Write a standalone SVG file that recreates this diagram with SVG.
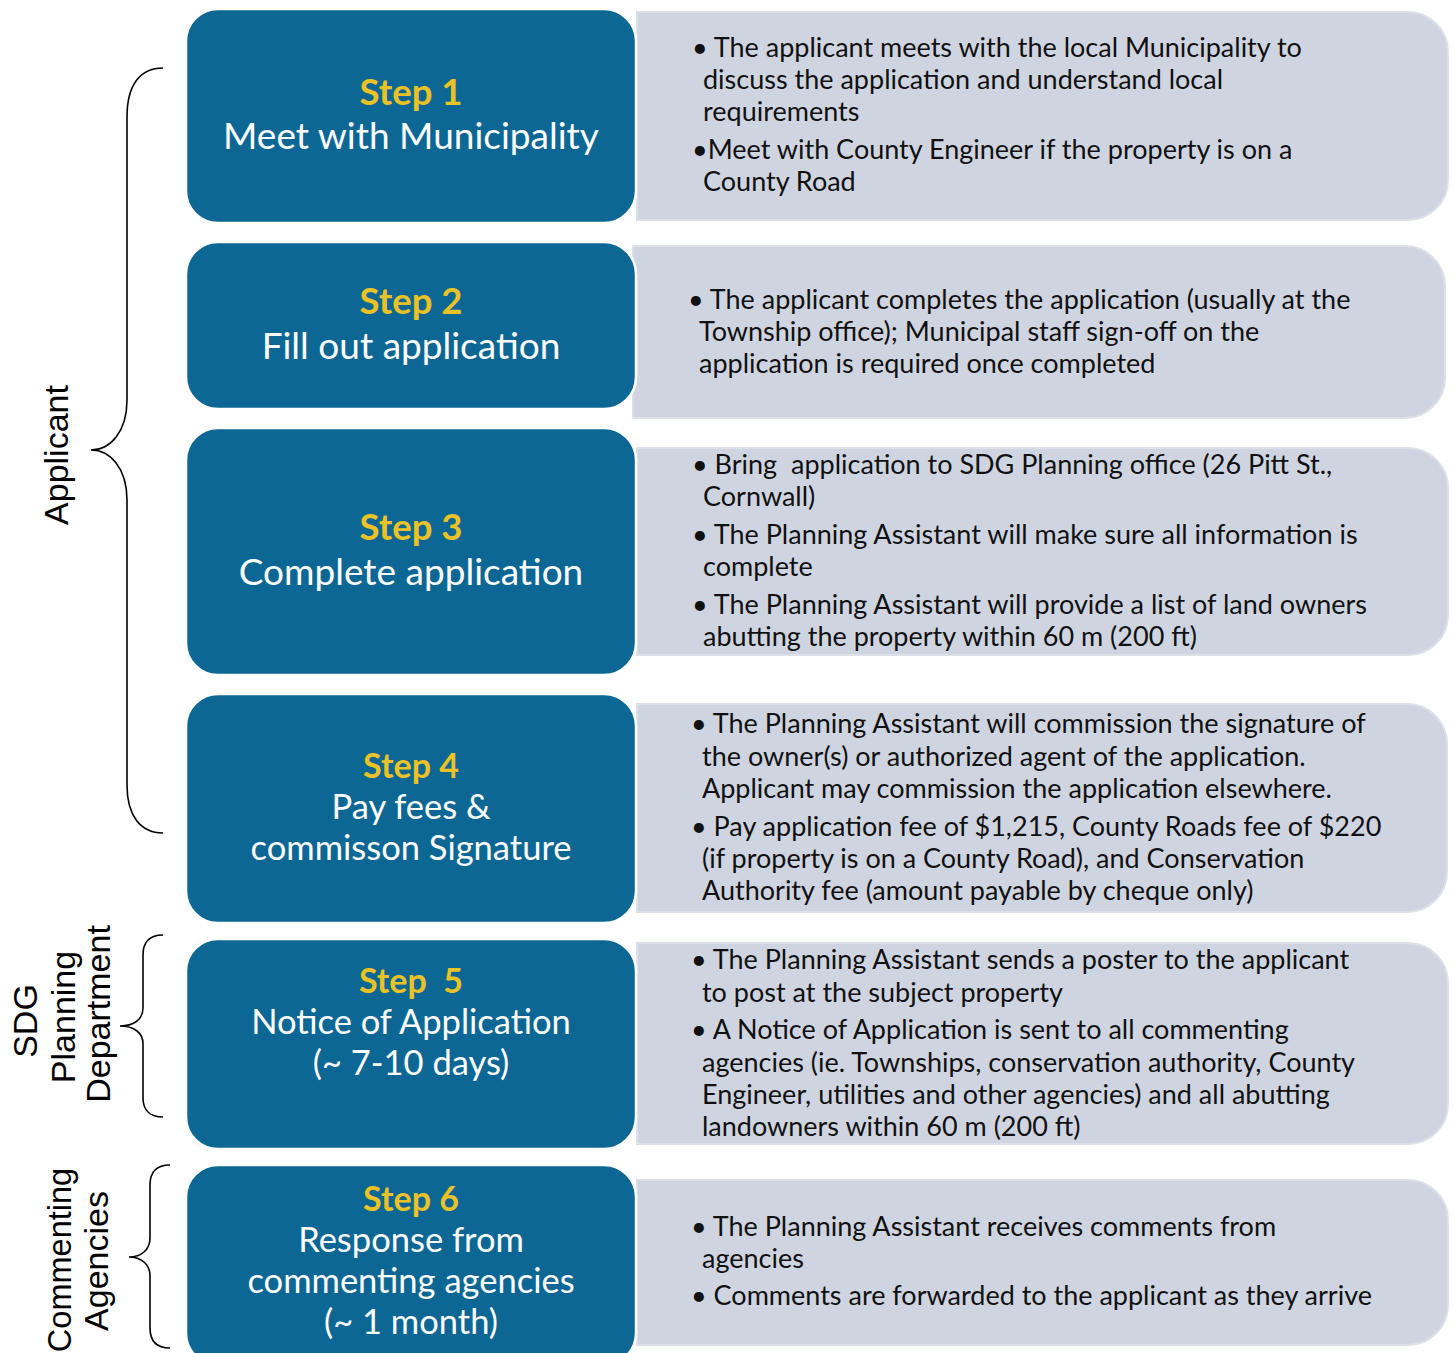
<svg xmlns="http://www.w3.org/2000/svg" width="1453" height="1353" viewBox="0 0 1453 1353">
<style>
.blue{fill:#0D6794;stroke:#FFFFFF;stroke-width:2.5}
.grey{fill:#CFD5E0;stroke:#DCE0E8;stroke-width:2}
.st{font-family:Lato,"Liberation Sans",sans-serif;font-weight:bold;font-size:34px;fill:#EBC225;text-anchor:middle}
.st.big{font-size:36.5px}
.tt{font-family:Lato,"Liberation Sans",sans-serif;font-size:34.5px;fill:#FFFFFF;text-anchor:middle}
.tt.big{font-size:37px}
.bt{font-family:Lato,"Liberation Sans",sans-serif;font-size:27px;fill:#111111}
.lab{font-family:"Liberation Sans",Arial,sans-serif;font-size:34px;fill:#000000;text-anchor:middle}
.brace{fill:none;stroke:#000000;stroke-width:1.6}
</style>
<rect width="1453" height="1353" fill="#FFFFFF"/>

<g id="connectors">
<path class="brace" d="M163,68 C140,68 127,85 127,117 L127,400 C127,432 110,450 91,450 C110,450 127,468 127,500 L127,785 C127,815 140,833 163,833"/>
<path class="brace" d="M163,935 C150,935 143,942 143,955 L143,1008 C143,1020 133,1026 120,1026 C133,1026 143,1032 143,1044 L143,1098 C143,1110 150,1117 163,1117"/>
<path class="brace" d="M170,1165 C157,1165 150,1172 150,1185 L150,1238 C150,1250 141,1257 129,1257 C141,1257 150,1264 150,1276 L150,1328 C150,1341 157,1348 170,1348"/>
</g>

<g id="label-applicant"><text class="lab" transform="translate(68,455) rotate(-90)">Applicant</text></g>
<g id="label-sdg"><text class="lab" transform="translate(37,1021) rotate(-90)">SDG</text><text class="lab" transform="translate(75,1017) rotate(-90)">Planning</text><text class="lab" transform="translate(110,1014) rotate(-90)">Department</text></g>
<g id="label-agencies"><text class="lab" style="font-size:32.5px" transform="translate(71,1260) rotate(-90)">Commenting</text><text class="lab" transform="translate(108,1261) rotate(-90)">Agencies</text></g>

<g id="detail1">
<path class="grey" d="M637,12 H1408 A40,40 0 0 1 1448,52 V180 A40,40 0 0 1 1408,220 H637 Z"/>
<text class="bt"><tspan x="692" y="57">• The applicant meets with the local Municipality to</tspan><tspan x="703" y="89">discuss the application and understand local</tspan><tspan x="703" y="121">requirements</tspan><tspan x="692" y="159">•Meet with County Engineer if the property is on a</tspan><tspan x="703" y="191">County Road</tspan></text>
</g>
<g id="detail2">
<path class="grey" d="M633,246 H1405 A40,40 0 0 1 1445,286 V378 A40,40 0 0 1 1405,418 H633 Z"/>
<text class="bt"><tspan x="688" y="309">• The applicant completes the application (usually at the</tspan><tspan x="699" y="341">Township office); Municipal staff sign-off on the</tspan><tspan x="699" y="373">application is required once completed</tspan></text>
</g>
<g id="detail3">
<path class="grey" d="M637,448 H1408 A40,40 0 0 1 1448,488 V615 A40,40 0 0 1 1408,655 H637 Z"/>
<text class="bt" xml:space="preserve"><tspan x="692" y="474">• Bring  application to SDG Planning office (26 Pitt St.,</tspan><tspan x="703" y="506">Cornwall)</tspan><tspan x="692" y="544">• The Planning Assistant will make sure all information is</tspan><tspan x="703" y="576">complete</tspan><tspan x="692" y="614">• The Planning Assistant will provide a list of land owners</tspan><tspan x="703" y="646">abutting the property within 60 m (200 ft)</tspan></text>
</g>
<g id="detail4">
<path class="grey" d="M637,704 H1407 A40,40 0 0 1 1447,744 V872 A40,40 0 0 1 1407,912 H637 Z"/>
<text class="bt"><tspan x="691" y="733">• The Planning Assistant will commission the signature of</tspan><tspan x="702" y="766">the owner(s) or authorized agent of the application.</tspan><tspan x="702" y="798">Applicant may commission the application elsewhere.</tspan><tspan x="691" y="836">• Pay application fee of $1,215, County Roads fee of $220</tspan><tspan x="702" y="868">(if property is on a County Road), and Conservation</tspan><tspan x="702" y="900">Authority fee (amount payable by cheque only)</tspan></text>
</g>
<g id="detail5">
<path class="grey" d="M637,943 H1408 A40,40 0 0 1 1448,983 V1104 A40,40 0 0 1 1408,1144 H637 Z"/>
<text class="bt"><tspan x="691" y="969">• The Planning Assistant sends a poster to the applicant</tspan><tspan x="702" y="1002">to post at the subject property</tspan><tspan x="691" y="1039">• A Notice of Application is sent to all commenting</tspan><tspan x="702" y="1072">agencies (ie. Townships, conservation authority, County</tspan><tspan x="702" y="1104">Engineer, utilities and other agencies) and all abutting</tspan><tspan x="702" y="1136">landowners within 60 m (200 ft)</tspan></text>
</g>
<g id="detail6">
<path class="grey" d="M637,1180 H1408 A40,40 0 0 1 1448,1220 V1305 A40,40 0 0 1 1408,1345 H637 Z"/>
<text class="bt"><tspan x="691" y="1236">• The Planning Assistant receives comments from</tspan><tspan x="702" y="1268">agencies</tspan><tspan x="691" y="1305">• Comments are forwarded to the applicant as they arrive</tspan></text>
</g>

<g id="step1">
<rect class="blue" x="186" y="9" width="450" height="214" rx="32"/>
<text class="st big" x="411" y="105">Step 1</text>
<text class="tt big" x="411" y="149">Meet with Municipality</text>
</g>
<g id="step2">
<rect class="blue" x="186" y="242" width="450" height="167" rx="32"/>
<text class="st big" x="411" y="314">Step 2</text>
<text class="tt big" x="411" y="359">Fill out application</text>
</g>
<g id="step3">
<rect class="blue" x="186" y="428" width="450" height="247" rx="32"/>
<text class="st big" x="411" y="540">Step 3</text>
<text class="tt big" x="411" y="585">Complete application</text>
</g>
<g id="step4">
<rect class="blue" x="186" y="694" width="450" height="229" rx="32"/>
<text class="st" x="411" y="778">Step 4</text>
<text class="tt" x="411" y="819">Pay fees &amp;</text>
<text class="tt" x="411" y="860">commisson Signature</text>
</g>
<g id="step5">
<rect class="blue" x="186" y="939" width="450" height="210" rx="32"/>
<text class="st" x="411" y="993" xml:space="preserve">Step  5</text>
<text class="tt" x="411" y="1034">Notice of Application</text>
<text class="tt" x="411" y="1075">(~ 7-10 days)</text>
</g>
<g id="step6">
<rect class="blue" x="186" y="1165" width="450" height="200" rx="32"/>
<text class="st" x="411" y="1211">Step 6</text>
<text class="tt" x="411" y="1252">Response from</text>
<text class="tt" x="411" y="1293">commenting agencies</text>
<text class="tt" x="411" y="1334">(~ 1 month)</text>
</g>
</svg>
